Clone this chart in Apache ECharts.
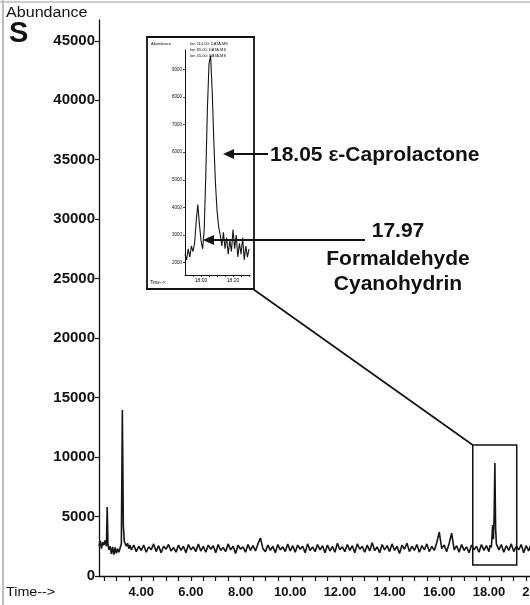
<!DOCTYPE html>
<html><head><meta charset="utf-8">
<script src="https://cdn.jsdelivr.net/npm/echarts@6/dist/echarts.min.js"></script>
<style>html,body{margin:0;padding:0;background:#fff}#c{width:530px;height:605px}</style>
</head><body><div id="c"></div>
<script>
// ---- main chromatogram (time in min, abundance) ----
const mainTime = [
 2.30,2.35,2.40,2.45,2.50,2.55,2.60,2.63,2.66,2.70,2.75,2.80,2.85,2.90,2.95,3.00,3.05,3.10,3.15,3.20,3.24,3.28,3.32,3.36,3.40,3.45,3.50,3.55,3.60,
 3.7,3.8,3.9,4.0,4.1,4.2,4.3,4.4,4.5,4.6,4.7,4.8,4.9,5.0,5.1,5.2,5.3,5.4,5.5,5.6,5.7,5.8,5.9,6.0,6.1,6.2,6.3,6.4,6.5,6.6,6.7,6.8,6.9,
 7.0,7.1,7.2,7.3,7.4,7.5,7.6,7.7,7.8,7.9,8.0,8.1,8.2,8.3,8.4,8.5,8.6,8.7,8.8,8.9,9.0,9.1,9.2,9.3,9.4,9.5,9.6,9.7,9.8,9.9,
 10.0,10.1,10.2,10.3,10.4,10.5,10.6,10.7,10.8,10.9,11.0,11.1,11.2,11.3,11.4,11.5,11.6,11.7,11.8,11.9,12.0,12.1,12.2,12.3,12.4,12.5,12.6,12.7,12.8,12.9,
 13.0,13.1,13.2,13.3,13.4,13.5,13.6,13.7,13.8,13.9,14.0,14.1,14.2,14.3,14.4,14.5,14.6,14.7,14.8,14.9,15.0,15.1,15.2,15.3,15.4,15.5,15.6,15.7,15.8,15.9,
 16.0,16.1,16.2,16.3,16.4,16.5,16.6,16.7,16.8,16.9,17.0,17.1,17.2,17.3,17.4,17.5,17.6,17.7,17.8,17.9,18.0,18.05,18.10,18.15,18.18,18.21,18.24,18.27,18.30,
 18.4,18.5,18.6,18.7,18.8,18.9,19.0,19.1,19.2,19.3,19.4,19.5,19.6,19.7,19.8,19.9,20.0,20.1,20.2,20.3,20.4,20.5
];
const mainAbund = [
 2500,2950,2300,2850,2600,3000,2500,5800,2700,2200,2500,1850,2450,1800,2400,1900,2300,2000,2350,2700,13960,4200,2900,3000,2500,2750,2300,2600,2200,
 2600,2050,2500,2150,2600,2000,2450,2200,2700,2050,2550,1950,2500,2250,2650,2100,2400,2000,2600,2150,2500,1950,2650,2200,2450,2050,2700,2100,2500,2000,2600,2250,2550,
 1950,2650,2150,2400,2050,2700,2200,2500,1900,2600,2250,2450,2000,2650,2150,2550,2100,2700,3200,2300,2050,2600,2150,2500,1950,2650,2200,2450,2050,2700,
 2100,2550,2000,2600,2250,2500,1950,2700,2150,2450,2050,2650,2200,2550,1950,2600,2100,2500,2000,2750,2200,2450,2050,2650,2150,2550,1950,2700,2250,2500,
 2000,2600,2100,2800,2150,2450,1950,2650,2200,2550,2050,2700,2150,2500,1900,2600,2250,2750,2050,2500,2150,2650,2000,2550,2200,2700,2050,2500,2150,2800,
 3700,2300,2600,2050,2750,3600,2200,2550,2000,2650,2150,2450,1950,2600,2200,2500,2000,2650,2150,2550,2050,2600,2400,4290,3100,5000,9500,4000,2700,
 2200,2650,2000,2550,2150,2700,2050,2500,2200,2650,1950,2550,2100,2700,2200,2450,2000,2600,2150,2500,2050,2550
];
// ---- inset (expanded view 17.90 - 18.30 min) ----
const insetTime = [17.90,17.91,17.92,17.93,17.94,17.95,17.96,17.97,17.98,17.99,18.00,18.01,18.02,18.03,18.04,18.05,18.06,18.07,18.08,18.09,18.10,
 18.11,18.12,18.13,18.14,18.15,18.16,18.17,18.18,18.19,18.20,18.21,18.22,18.23,18.24,18.25,18.26,18.27,18.28,18.29,18.30];
const insetAbund = [2300,2100,2500,2200,2600,2400,2700,3500,4100,3400,2800,2500,3200,5200,7600,9200,9500,8200,6400,4900,3900,
 3300,3000,2600,3100,2500,2900,2300,2800,2400,3200,2500,3000,2200,2700,2300,2900,2100,2600,2200,2500];

const xLabelValues = [4,6,8,10,12,14,16,18,20];
const xTickValues = [2.5,3,3.5,4,4.5,5,5.5,6,6.5,7,7.5,8,8.5,9,9.5,10,10.5,11,11.5,12,12.5,13,13.5,14,14.5,15,15.5,16,16.5,17,17.5,18,18.5,19,19.5,20,20.5];
const yLabelValues = [0,5000,10000,15000,20000,25000,30000,35000,40000,45000];
const insetXLabelValues = [18.0,18.2];
const insetXTickValues = [17.95,18.0,18.05,18.1,18.15,18.2,18.25,18.3];
const insetYLabelValues = [2000,3000,4000,5000,6000,7000,8000,9000];
const zoomBoxTime = [17.35,19.12];
const zoomBoxAbund = [925,11015];
const insetLegend = ['Ion 114.00: DATA.MS','Ion 85.00: DATA.MS','Ion 55.00: DATA.MS'];

const FF = '"Liberation Sans", Arial, sans-serif';
const ink = '#111';
const chart = echarts.init(document.getElementById('c'), null, {renderer:'canvas'});

chart.setOption({
  animation:false,
  backgroundColor:'#fff',
  grid:[
    {left:99, top:20, width:452, height:556, containLabel:false, outerBoundsMode:'none'},
    {left:185, top:50, width:65, height:225, containLabel:false, outerBoundsMode:'none'}
  ],
  xAxis:[
    {type:'value', gridIndex:0, min:2.3, max:20.5,
     axisLine:{lineStyle:{color:ink,width:1.3}},
     axisTick:{customValues:xTickValues, length:5, lineStyle:{color:ink,width:1.2}},
     axisLabel:{customValues:xLabelValues, formatter:v=>v.toFixed(2), margin:10,
       color:ink, fontFamily:FF, fontWeight:'bold', fontSize:13},
     splitLine:{show:false}},
    {type:'value', gridIndex:1, min:17.90, max:18.306,
     axisLine:{lineStyle:{color:ink,width:1}},
     axisTick:{customValues:insetXTickValues, length:2, lineStyle:{color:ink,width:0.8}},
     axisLabel:{customValues:insetXLabelValues, formatter:v=>v.toFixed(2), margin:3,
       color:ink, fontFamily:FF, fontSize:5},
     splitLine:{show:false}}
  ],
  yAxis:[
    {type:'value', gridIndex:0, min:0, max:46750,
     axisLine:{show:true, lineStyle:{color:ink,width:1.3}},
     axisTick:{show:true, customValues:yLabelValues, length:4, lineStyle:{color:ink,width:1.2}},
     axisLabel:{customValues:yLabelValues, formatter:v=>String(v), margin:4, color:ink, fontFamily:FF, fontWeight:'bold', fontSize:15},
     splitLine:{show:false}},
    {type:'value', gridIndex:1, min:1550, max:9700,
     axisLine:{show:true, lineStyle:{color:ink,width:1}},
     axisTick:{show:true, customValues:insetYLabelValues, length:2, lineStyle:{color:ink,width:0.8}},
     axisLabel:{customValues:insetYLabelValues, formatter:v=>String(v), margin:3, color:ink, fontFamily:FF, fontSize:4.5},
     splitLine:{show:false}}
  ],
  series:[
    {type:'line', xAxisIndex:0, yAxisIndex:0, showSymbol:false, silent:true,
     data: mainTime.map((t,i)=>[t, mainAbund[i]]),
     lineStyle:{color:'#151515', width:1.6},
     markArea:{silent:true, itemStyle:{color:'rgba(0,0,0,0)', borderColor:ink, borderWidth:1.5},
       data:[[{coord:[zoomBoxTime[0], zoomBoxAbund[0]]},{coord:[zoomBoxTime[1], zoomBoxAbund[1]]}]]}},
    {type:'line', xAxisIndex:1, yAxisIndex:1, showSymbol:false, silent:true,
     data: insetTime.map((t,i)=>[t, insetAbund[i]]),
     lineStyle:{color:'#151515', width:1.1}}
  ]
});

// annotations
const corner = chart.convertToPixel({xAxisIndex:0, yAxisIndex:0}, [zoomBoxTime[0], zoomBoxAbund[1]]);
const frame = {x:147, y:37, w:107, h:252};
function txt(text, x, y, size, weight, align, extra){
  return Object.assign({type:'text', x:x, y:y, z:10, style:{text:text, fill:ink,
    font:(weight||'normal')+' '+size+'px '+FF, fontSize:size, fontWeight:weight||'normal', fontFamily:FF,
    textAlign:align||'left', align:align||'left', textVerticalAlign:'middle', verticalAlign:'middle'}}, extra||{});
}
function arrow(xTip, y, xEnd){
  return [
    {type:'line', z:10, shape:{x1:xTip+8, y1:y, x2:xEnd, y2:y}, style:{stroke:ink, lineWidth:2}},
    {type:'polygon', z:10, shape:{points:[[xTip,y],[xTip+11,y-5],[xTip+11,y+5]]}, style:{fill:ink}}
  ];
}
const legendTexts = insetLegend.map((s,i)=>txt(s, 190, 44+i*6, 4, 'normal', 'left'));
chart.setOption({
  graphic:[
    {type:'line', shape:{x1:3,y1:0,x2:3,y2:605}, style:{stroke:'#aaa', lineWidth:1.5}},
    {type:'line', shape:{x1:0,y1:2,x2:530,y2:2}, style:{stroke:'#bbb', lineWidth:1.5}},
    txt('Abundance', 6, 13, 14, 'normal', 'left', {scaleX:1.15}),
    txt('S', 9, 34, 29, 'bold', 'left'),
    txt('Time-->', 6, 592, 13, 'normal', 'left', {scaleX:1.1}),
    {type:'rect', z:9, shape:{x:frame.x, y:frame.y, width:frame.w, height:frame.h}, style:{fill:'none', stroke:ink, lineWidth:1.8}},
    txt('Abundance', 151, 44, 4, 'normal', 'left'),
    txt('Time-->', 150, 283, 4.5, 'normal', 'left'),
    ...legendTexts,
    {type:'line', z:9, shape:{x1:frame.x+frame.w-1, y1:frame.y+frame.h, x2:corner[0], y2:corner[1]}, style:{stroke:ink, lineWidth:1.6}},
    ...arrow(223, 154, 268),
    ...arrow(203, 240, 365),
    txt('18.05 \u03b5-Caprolactone', 270, 155, 21, 'bold', 'left'),
    txt('17.97', 398, 231, 21, 'bold', 'center'),
    txt('Formaldehyde', 398, 259, 21, 'bold', 'center'),
    txt('Cyanohydrin', 398, 284, 21, 'bold', 'center')
  ]
});
</script></body></html>
